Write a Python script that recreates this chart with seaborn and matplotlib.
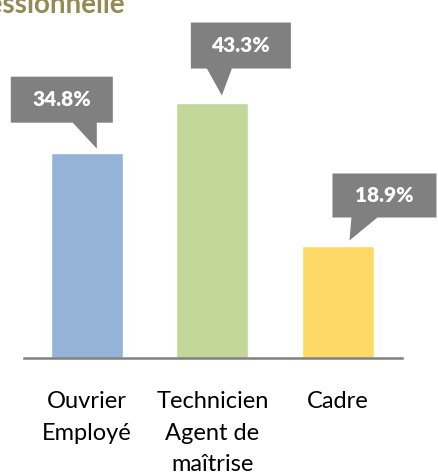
import matplotlib
matplotlib.use('Agg')
import matplotlib.pyplot as plt
import matplotlib.transforms as mtransforms
from matplotlib.patches import Polygon
import pandas as pd
import seaborn as sns

categories = ['Ouvrier\nEmployé', 'Technicien\nAgent de\nmaîtrise', 'Cadre']
values = [34.8, 43.3, 18.9]
labels = ['34.8%', '43.3%', '18.9%']
colors = ['#95b3d7', '#c4d79b', '#ffd966']
title = 'Catégorie socio-professionnelle'

# callout shapes in pixels, relative to the top centre of each bar
callouts = [
    [(-76, 30), (-14, 30), (10, 4), (10, 30), (26, 30), (26, 76), (-76, 76)],
    [(-21.5, 34), (-5.5, 34), (9.5, 7), (19.5, 34), (78.5, 34), (78.5, 80), (-21.5, 80)],
    [(-5.5, 29), (13.5, 29), (11.5, 6), (39.5, 29), (98.5, 29), (98.5, 73), (-5.5, 73)],
]
text_pos = [(-25, 53), (28.5, 57), (46.5, 51)]

sns.set_style('white')
plt.rcParams['font.family'] = ['Lato', 'DejaVu Sans']

fig = plt.figure(figsize=(4.38, 4.75), dpi=100)
ax = fig.add_axes([24 / 438, 1 - 358 / 475, 378 / 438, 358 / 475])

data = pd.DataFrame({'cat': categories, 'val': values})
sns.barplot(data=data, x='cat', y='val', hue='cat', palette=colors,
            width=0.575, saturation=1, legend=False, ax=ax)

ax.set_xlim(-0.5, 2.51)
ax.set_ylim(0, 358 / 5.9)
sns.despine(ax=ax, left=True)
ax.spines['bottom'].set_color('#808080')
ax.spines['bottom'].set_linewidth(1.8)
ax.set_yticks([])
ax.set_xlabel('')
ax.set_ylabel('')
ax.tick_params(axis='x', length=0, pad=24, labelsize=17, colors='black')
for t in ax.get_xticklabels():
    t.set_linespacing(1.6)
    t.set_verticalalignment('top')

for i, (v, lab) in enumerate(zip(values, labels)):
    trans = mtransforms.Affine2D() + mtransforms.ScaledTranslation(i, v, ax.transData)
    ax.add_patch(Polygon(callouts[i], closed=True, transform=trans,
                         facecolor='#808080', edgecolor='none', clip_on=False))
    ax.annotate(lab, xy=(i, v), xytext=text_pos[i], textcoords='offset pixels',
                ha='center', va='center', color='white', fontsize=15,
                fontweight='heavy', annotation_clip=False)

fig.text(125 / 438, 1 - 13 / 475, title, ha='right', va='baseline',
         color='#948a54', fontsize=20, fontweight='bold')

fig.savefig('out.png', dpi=100)
